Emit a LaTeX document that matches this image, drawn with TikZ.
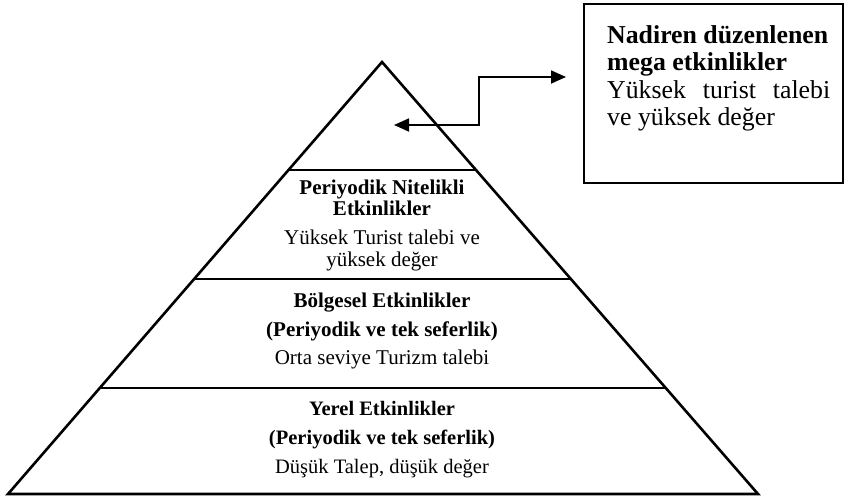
\documentclass[tikz,border=0pt]{standalone}
\usepackage{fontspec}
\setmainfont{Liberation Serif}
\usetikzlibrary{arrows.meta}
\tikzset{
  pyr/.style={line width=2.6pt, line join=miter},
  band/.style={line width=2.6pt},
  lbl/.style={align=center, inner sep=0pt, font=\fontsize{21}{21.5}\selectfont},
  boxtxt/.style={align=left, inner sep=0pt, anchor=north west, font=\fontsize{25.8}{27.5}\selectfont},
  conn/.style={line width=1.8pt, {Triangle[length=15pt,width=13pt]}-{Triangle[length=15pt,width=13pt]}}
}
\begin{document}
\begin{tikzpicture}[x=1pt,y=-1pt]
\useasboundingbox (0,0) rectangle (845,498);
\coordinate (apex) at (382,62);
\coordinate (bl) at (8,494);
\coordinate (br) at (758,494);
\draw[pyr] (apex) -- (bl) -- (br) -- cycle;
\draw[band] (288.5,170) -- (475.5,170);
\draw[band] (194,279) -- (570,279);
\draw[band] (99.5,388) -- (664.5,388);
% box
\draw[line width=1.8pt] (584,4) rectangle (843,183);
\node[boxtxt] (boxt) at (607,25) {\textbf{Nadiren düzenlenen}\\\textbf{mega etkinlikler}\\\makebox[223pt][s]{Yüksek turist talebi}\\ve yüksek değer};
% connector
\coordinate (al) at (394,125);
\coordinate (ar) at (566,77);
\coordinate (c1) at (479,125);
\coordinate (c2) at (479,77);
\draw[conn] (al) -- (c1) -- (c2) -- (ar);
% layer texts
\node[lbl] (l2a) at (382,198) {\textbf{Periyodik Nitelikli}\\\textbf{Etkinlikler}};
\node[lbl, font=\fontsize{21}{22}\selectfont] (l2b) at (382,250) {Yüksek Turist talebi ve\\yüksek değer};
\node[lbl, font=\fontsize{21}{28.5}\selectfont] (l3) at (382,331) {\textbf{Bölgesel Etkinlikler}\\\textbf{(Periyodik ve tek seferlik)}\\Orta seviye Turizm talebi};
\node[lbl, font=\fontsize{20.5}{29}\selectfont] (l4) at (382,440) {\textbf{Yerel Etkinlikler}\\\textbf{(Periyodik ve tek seferlik)}\\Düşük Talep, düşük değer};
\end{tikzpicture}
\end{document}
